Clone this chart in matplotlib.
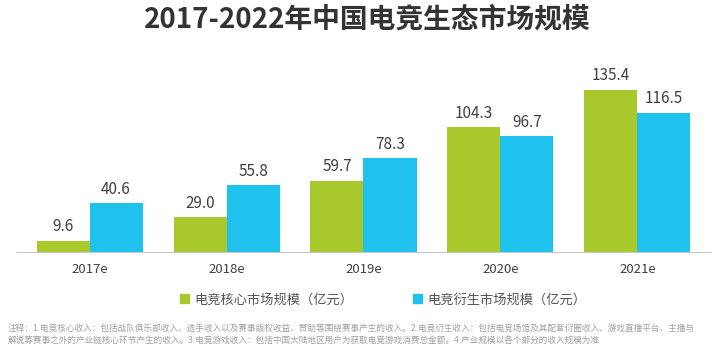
import matplotlib
matplotlib.use('Agg')
import matplotlib.pyplot as plt
from matplotlib.patches import Patch
import numpy as np

plt.rcParams['font.family'] = ['Noto Sans CJK SC', 'DejaVu Sans']

# data
years = ['2017e', '2018e', '2019e', '2020e', '2021e']
core = [9.6, 29.0, 59.7, 104.3, 135.4]
derived = [40.6, 55.8, 78.3, 96.7, 116.5]
core_label = '电竞核心市场规模（亿元）'
derived_label = '电竞衍生市场规模（亿元）'
title = '2017-2022年中国电竞生态市场规模'
note = ('注释：1.电竞核心收入：包括战队俱乐部收入、选手收入以及赛事版权收益、赞助等围绕赛事产生的收入。'
        '2.电竞衍生收入：包括电竞场馆及其配套衍圈收入、游戏直播平台、主播与\n'
        '解说等赛事之外的产业链核心环节产生的收入。3.电竞游戏收入：包括中国大陆地区用户为获取电竞游戏消费总金额。'
        '4.产业规模以各个部分的收入规模为准')

green = '#a8c82c'
blue = '#1ec2ec'
text_c = '#404040'

fig = plt.figure(figsize=(7.2, 3.56), dpi=100)
ax = fig.add_axes([17/720, 104/356, 693/720, 192/356])

x = np.arange(len(years))
w = 0.387
b1 = ax.bar(x - w/2, core, w, color=green)
b2 = ax.bar(x + w/2, derived, w, color=blue)

for bars in (b1, b2):
    for r in bars:
        ax.annotate(f'{r.get_height():.1f}', (r.get_x() + r.get_width()/2, r.get_height()),
                    xytext=(0, 4), textcoords='offset points', ha='center', va='bottom',
                    fontsize=11, color=text_c)

ax.set_xlim(-0.53, 4.53)
ax.set_ylim(0, 160.5)
ax.set_xticks(x)
ax.set_xticklabels(years, fontsize=9.5, color=text_c)
ax.tick_params(axis='x', length=0, pad=8)
ax.set_yticks([])
for s in ['top', 'right', 'left']:
    ax.spines[s].set_visible(False)
ax.spines['bottom'].set_color('#c8c8c8')

fig.text(0.51, 0.945, title, ha='center', va='center', fontsize=20, fontweight='bold', color='#333333')

handles = [Patch(color=green), Patch(color=blue)]
fig.legend(handles, [core_label, derived_label], loc='center', bbox_to_anchor=(0.532, 0.158),
           ncol=2, frameon=False, fontsize=9.5, handlelength=0.7, handleheight=0.7,
           handletextpad=0.4, columnspacing=4.5, labelcolor='#555555')

fig.text(0.011, 0.06, note, ha='left', va='center', fontsize=6.2, color='#a0a0a0', linespacing=1.45)

fig.savefig('out.png', dpi=100)
